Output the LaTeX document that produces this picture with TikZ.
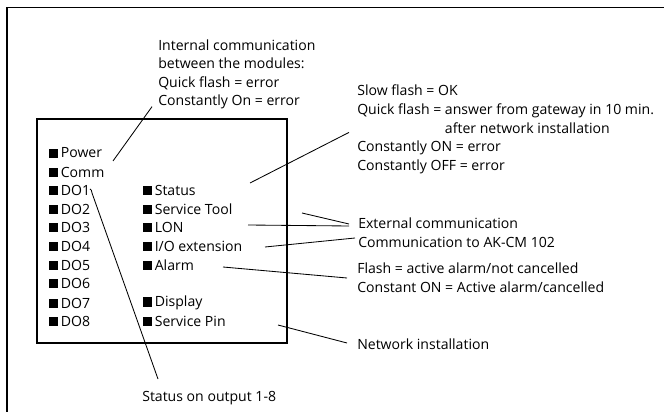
\documentclass[tikz,border=0pt]{standalone}
\usepackage{fontspec}
\setmainfont{Open Sans}
\usetikzlibrary{calc}

\newcommand{\ledsq}{\rule{6pt}{6.6pt}\hspace{2.2pt}}

\begin{document}
\begin{tikzpicture}[x=0.025cm, y=-0.025cm,
		every node/.style={font=\fontsize{10}{13.2}\selectfont},
		led/.style={anchor=west, inner sep=0pt},
		note/.style={anchor=west, inner sep=0pt, align=left},
		lead/.style={line width=0.6pt},
		frame/.style={line width=1pt},
		panel/.style={line width=0.8pt}
		]
		
		\useasboundingbox (0,0) rectangle (664,412);
		
		% --------------------------------------------------------------------
		% outer frame and module front
		% --------------------------------------------------------------------
		\draw[frame] (7,412) -- (7,7.5) -- (664,7.5);
		\draw[panel] (37,119) rectangle (287,343);
		
		% LEFT column of diodes
		\node[led] (power) at (49,153) {\ledsq Power};
		\node[led] (comm)  at (49,172) {\ledsq Comm};
		\node[led] (do1)   at (49,190) {\ledsq DO1};
		\node[led] (do2)   at (49,209) {\ledsq DO2};
		\node[led] (do3)   at (49,227) {\ledsq DO3};
		\node[led] (do4)   at (49,246) {\ledsq DO4};
		\node[led] (do5)   at (49,265) {\ledsq DO5};
		\node[led] (do6)   at (49,283) {\ledsq DO6};
		\node[led] (do7)   at (49,303) {\ledsq DO7};
		\node[led] (do8)   at (49,321) {\ledsq DO8};
		
		% RIGHT column of diodes
		\node[led] (status)  at (143,190) {\ledsq Status};
		\node[led] (svctool) at (143,209) {\ledsq Service Tool};
		\node[led] (lon)     at (143,227) {\ledsq LON};
		\node[led] (io)      at (143,246) {\ledsq I/O extension};
		\node[led] (alarm)   at (143,265) {\ledsq Alarm};
		\node[led] (display) at (143,303) {\ledsq Display};
		\node[led] (pin)     at (143,321) {\ledsq Service Pin};
		
		% --------------------------------------------------------------------
		% explanations
		% --------------------------------------------------------------------
		\node[note] (intcomm) at (158,74.5) {Internal communication\\
			between the modules:\\
			Quick flash = error\\
			Constantly On = error};
		
		\node[note] (slow) at (357,129.4) {Slow flash = OK\\
			Quick flash = answer from gateway in 10 min.\\
			\phantom{Quick flash =}\ after network installation\\
			Constantly ON = error\\
			Constantly OFF = error};
		
		\node[note] (ext)   at (358,223) {External communication};
		\node[note] (akcm)  at (358,242) {Communication to AK-CM 102};
		\node[note] (flash) at (357,278) {Flash = active alarm/not cancelled\\
			Constant ON = Active alarm/cancelled};
		\node[note] (net)   at (357,344) {Network installation};
		\node[note] (outp)  at (142,398) {Status on output 1-8};
		
		% leader lines
		\draw[lead] ($(comm.west)+(64,-11)$) -- ($(intcomm.south west)+(-6,-3)$);
		\draw[lead] ($(status.west)+(107,-7)$) -- ($(slow.west)+(-8,3)$);
		\draw[lead] ($(svctool.west)+(159,4)$) -- ($(ext.west)+(-9,1)$);
		\draw[lead] ($(lon.west)+(105,-2)$) -- ($(ext.west)+(-9,3)$);
		\draw[lead] ($(io.west)+(122,1)$) -- ($(akcm.west)+(-3,-4)$);
		\draw[lead] ($(alarm.west)+(80,2)$) -- ($(flash.west)+(-10,0)$);
		\draw[lead] ($(pin.west)+(135,4)$) -- ($(net.west)+(-10,-1)$);
		\draw[lead] ($(do1.west)+(41,-1)$) .. controls +(2,0) and +(-1,-2) .. ($(do1.west)+(43,3)$)
			-- ($(outp.west)+(16,-19)$);
		
	\end{tikzpicture}
\end{document}
